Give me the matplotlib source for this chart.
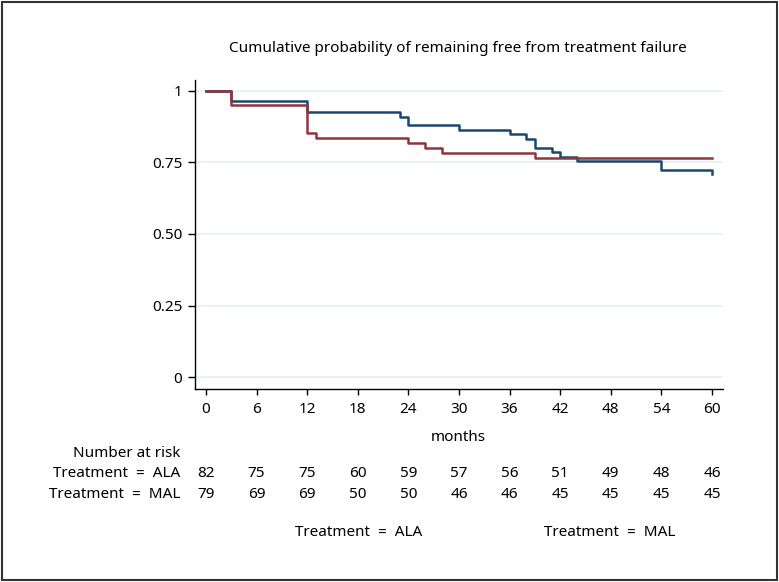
import matplotlib.pyplot as plt
import matplotlib.transforms as mtransforms
from matplotlib.patches import Rectangle

plt.rcParams['font.family'] = ['Noto Sans', 'DejaVu Sans']

# Kaplan-Meier steps
ala_t = [0, 3, 12, 23, 24, 30, 36, 38, 39, 41, 42, 44, 54, 60]
ala_s = [1, 0.963, 0.925, 0.909, 0.880, 0.863, 0.849, 0.831, 0.801, 0.785, 0.770, 0.755, 0.723, 0.708]
mal_t = [0, 3, 12, 13, 24, 26, 28, 39, 60]
mal_s = [1, 0.949, 0.853, 0.834, 0.817, 0.799, 0.784, 0.764, 0.764]

risk_times = [0, 6, 12, 18, 24, 30, 36, 42, 48, 54, 60]
risk_ala = [82, 75, 75, 60, 59, 57, 56, 51, 49, 48, 46]
risk_mal = [79, 69, 69, 50, 50, 46, 46, 45, 45, 45, 45]

y_ticks = [0, 0.25, 0.5, 0.75, 1]
y_labels = ['0', '0.25', '0.50', '0.75', '1']

blue = '#1a476f'
red = '#90353b'
fs = 11

fig = plt.figure(figsize=(7.79, 5.82), dpi=100)
ax = fig.add_axes([0.2503, 0.3316, 0.6777, 0.531])

for y in y_ticks:
    ax.axhline(y, color='#e8f1f2', lw=1.3, zorder=0)

# the last point is drawn as a tiny drop at the end, like Stata does
ax.plot(ala_t, ala_s, drawstyle='steps-post', color=blue, lw=1.8)
ax.plot(mal_t, mal_s, drawstyle='steps-post', color=red, lw=1.8)

ax.set_xlim(-1.3, 61.3)
ax.set_ylim(-0.0405, 1.037)
ax.set_xticks(risk_times)
ax.set_yticks(y_ticks)
ax.set_yticklabels(y_labels)
ax.tick_params(axis='y', length=5, width=1, labelsize=fs, pad=4)
ax.tick_params(axis='x', length=4, width=1, labelsize=fs, pad=5)
for side in ['top', 'right']:
    ax.spines[side].set_visible(False)
for side in ['left', 'bottom']:
    ax.spines[side].set_linewidth(1)

fig.text(0.588, 0.9175, 'Cumulative probability of remaining free from treatment failure',
         ha='center', va='center', fontsize=fs)
fig.text(0.588, 0.2491, 'months', ha='center', va='center', fontsize=fs)

# number at risk table
tr = mtransforms.blended_transform_factory(ax.transData, fig.transFigure)
fig.text(0.231, 0.2216, 'Number at risk', ha='right', va='center', fontsize=fs)
fig.text(0.231, 0.1856, 'Treatment  =  ALA', ha='right', va='center', fontsize=fs)
fig.text(0.231, 0.1512, 'Treatment  =  MAL', ha='right', va='center', fontsize=fs)
for t, a, m in zip(risk_times, risk_ala, risk_mal):
    ax.text(t, 0.1856, str(a), transform=tr, ha='center', va='center', fontsize=fs)
    ax.text(t, 0.1512, str(m), transform=tr, ha='center', va='center', fontsize=fs)

# legend
fig.text(0.461, 0.0859, 'Treatment  =  ALA', ha='center', va='center', fontsize=fs)
fig.text(0.783, 0.0859, 'Treatment  =  MAL', ha='center', va='center', fontsize=fs)

fig.patches.append(Rectangle((0.002, 0.003), 0.995, 0.994, transform=fig.transFigure,
                             fill=False, edgecolor='#333333', lw=1.5))

fig.savefig('out.png', dpi=100)
